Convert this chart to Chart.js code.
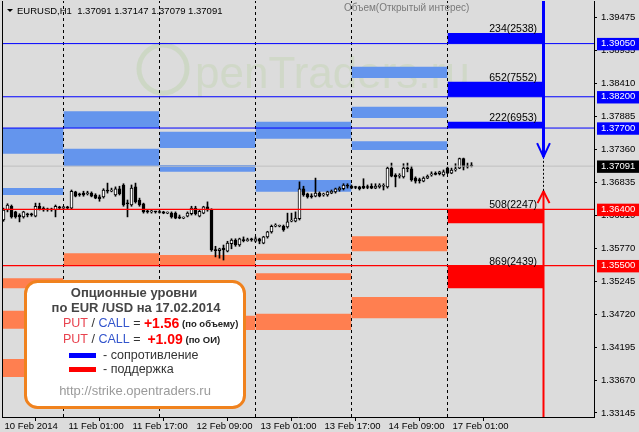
<!DOCTYPE html>
<html>
<head>
<meta charset="utf-8">
<script src="https://cdn.jsdelivr.net/npm/chart.js@4.4.0/dist/chart.umd.min.js"></script>
<style>
  html, body { margin: 0; padding: 0; background: #dcdcdc; overflow: hidden; }
</style>
</head>
<body>
<canvas id="chart" width="639" height="432"></canvas>
<script>
// H1 бары, индекс часа: 0 = 10 Feb 00:00, 24 = 11 Feb, 48 = 12 Feb, 72 = 13 Feb, 96 = 14 Feb, 120 = 17 Feb
const firstBar = 9;
const opens = [
  1.3623,1.3639,1.3645,1.3636,1.3631,1.3628,1.3633,1.3633,1.3629,1.3645,
  1.3642,1.3641,1.3641,1.3639,1.3644,1.3642,1.3644,1.3642,1.3668,1.3665,
  1.3666,1.3665,1.3666,1.3663,1.3660,1.3660,1.3671,1.3669,1.3663,1.3673,
  1.3679,1.3650,1.3647,1.3676,1.3655,1.3649,1.3637,1.3636,1.3636,1.3636,
  1.3636,1.3634,1.3634,1.3634,1.3628,1.3626,1.3629,1.3633,1.3642,1.3629,
  1.3634,1.3644,1.3639,1.3575,1.3574,1.3578,1.3573,1.3585,1.3591,1.3583,
  1.3591,1.3590,1.3593,1.3589,1.3593,1.3586,1.3596,1.3604,1.3613,1.3613,
  1.3613,1.3612,1.3621,1.3621,1.3625,1.3673,1.3665,1.3661,1.3661,1.3666,
  1.3663,1.3663,1.3666,1.3668,1.3671,1.3673,1.3679,1.3677,1.3676,1.3676,
  1.3677,1.3676,1.3677,1.3674,1.3676,1.3677,1.3676,1.3706,1.3695,1.3693,
  1.3692,1.3706,1.3705,1.3690,1.3687,1.3685,1.3690,1.3695,1.3697,1.3697,
  1.3695,1.3706,1.3698,1.3703,1.3706,1.3721,1.3709,1.37091
];
const highs = [
  1.3642,1.3649,1.3647,1.3637,1.3633,1.3637,1.3634,1.3634,1.3650,1.3650,
  1.3644,1.3642,1.3642,1.3647,1.3645,1.3645,1.3645,1.3671,1.3669,1.3666,
  1.3669,1.3669,1.3668,1.3665,1.3663,1.3673,1.3682,1.3674,1.3676,1.3677,
  1.3681,1.3655,1.3679,1.3682,1.3658,1.3650,1.3639,1.3639,1.3637,1.3638,
  1.3637,1.3636,1.3636,1.3636,1.3631,1.3628,1.3636,1.3645,1.3645,1.3639,
  1.3645,1.3652,1.3641,1.3581,1.3578,1.3583,1.3589,1.3593,1.3593,1.3594,
  1.3596,1.3594,1.3594,1.3596,1.3594,1.3597,1.3605,1.3615,1.3617,1.3615,
  1.3615,1.3634,1.3634,1.3636,1.3684,1.3677,1.3666,1.3665,1.3690,1.3668,
  1.3666,1.3669,1.3671,1.3674,1.3676,1.3681,1.3681,1.3679,1.3677,1.3677,
  1.3689,1.3679,1.3681,1.3681,1.3681,1.3681,1.3708,1.3714,1.3697,1.3697,
  1.3713,1.3714,1.3709,1.3692,1.3690,1.3692,1.3695,1.3700,1.3700,1.3701,
  1.3703,1.3708,1.3706,1.3713,1.3722,1.3722,1.3714,1.37147
];
const lows = [
  1.3621,1.3636,1.3626,1.3626,1.3620,1.3626,1.3628,1.3629,1.3628,1.3639,
  1.3637,1.3637,1.3637,1.3628,1.3641,1.3641,1.3641,1.3641,1.3660,1.3661,
  1.3661,1.3663,1.3660,1.3657,1.3653,1.3658,1.3666,1.3668,1.3661,1.3663,
  1.3645,1.3628,1.3645,1.3650,1.3645,1.3634,1.3634,1.3634,1.3634,1.3634,
  1.3633,1.3633,1.3626,1.3625,1.3625,1.3625,1.3628,1.3631,1.3631,1.3628,
  1.3633,1.3637,1.3573,1.3564,1.3562,1.3559,1.3572,1.3577,1.3581,1.3581,
  1.3588,1.3589,1.3589,1.3588,1.3585,1.3585,1.3594,1.3602,1.3612,1.3612,
  1.3605,1.3610,1.3620,1.3620,1.3623,1.3661,1.3658,1.3658,1.3660,1.3660,
  1.3661,1.3661,1.3665,1.3666,1.3669,1.3671,1.3674,1.3673,1.3673,1.3671,
  1.3673,1.3673,1.3673,1.3673,1.3674,1.3671,1.3674,1.3692,1.3676,1.3690,
  1.3690,1.3700,1.3685,1.3682,1.3682,1.3684,1.3689,1.3693,1.3695,1.3695,
  1.3693,1.3697,1.3697,1.3701,1.3705,1.3703,1.3706,1.37079
];
const closes = [
  1.3639,1.3647,1.3628,1.3628,1.3628,1.3636,1.3631,1.3631,1.3645,1.3641,
  1.3639,1.3639,1.3639,1.3645,1.3642,1.3644,1.3642,1.3669,1.3661,1.3663,
  1.3663,1.3666,1.3661,1.3658,1.3657,1.3671,1.3669,1.3671,1.3673,1.3665,
  1.3647,1.3649,1.3674,1.3652,1.3647,1.3636,1.3636,1.3637,1.3636,1.3635,
  1.3634,1.3635,1.3628,1.3626,1.3626,1.3627,1.3634,1.3642,1.3633,1.3637,
  1.3644,1.3639,1.3575,1.3574,1.3577,1.3575,1.3586,1.3591,1.3583,1.3593,
  1.3590,1.3591,1.3591,1.3593,1.3589,1.3596,1.3604,1.3613,1.3615,1.3614,
  1.3607,1.3620,1.3623,1.3626,1.3673,1.3663,1.3660,1.3660,1.3666,1.3661,
  1.3665,1.3668,1.3669,1.3673,1.3674,1.3679,1.3677,1.3674,1.3675,1.3673,
  1.3674,1.3675,1.3674,1.3677,1.3679,1.3678,1.3706,1.3693,1.3692,1.3694,
  1.3706,1.3705,1.3687,1.3685,1.3686,1.3690,1.3693,1.3697,1.3696,1.3700,
  1.3700,1.3698,1.3703,1.3705,1.3721,1.3708,1.3708,1.37091
];

// подписи оси времени и цены
const tickBars = [9, 25, 41, 57, 73, 89, 105, 121];
const tickLabels = ['10 Feb 2014', '11 Feb 01:00', '11 Feb 17:00', '12 Feb 09:00',
  '13 Feb 01:00', '13 Feb 17:00', '14 Feb 09:00', '17 Feb 01:00'];
const priceTicks = [1.39475, 1.38935, 1.38410, 1.37885, 1.37360, 1.36835, 1.36310,
  1.35770, 1.35245, 1.34720, 1.34195, 1.33670, 1.33145];
const dayStarts = [24, 48, 72, 96, 120];

// уровни
const resistLevels = [1.3905, 1.3820, 1.3770];
const supportLevels = [1.3640, 1.3550];
const lastPrice = 1.37091;

// опционные уровни прошлых дней: [начало дня, верх, низ]
const resistHistory = [
  [0, 1.3770, 1.3729], [0, 1.3674, 1.3663],
  [24, 1.3797, 1.3770], [24, 1.3737, 1.3709],
  [48, 1.3764, 1.3738], [48, 1.3711, 1.3700],
  [72, 1.3780, 1.3753], [72, 1.3687, 1.3668],
  [96, 1.3868, 1.3850], [96, 1.3804, 1.3786], [96, 1.3749, 1.3735]
];
const supportHistory = [
  [0, 1.3530, 1.3514], [0, 1.3478, 1.3449], [0, 1.3401, 1.3372],
  [24, 1.3570, 1.3551],
  [48, 1.3567, 1.3551], [48, 1.3470, 1.3447],
  [72, 1.3569, 1.3559], [72, 1.3538, 1.3527], [72, 1.3473, 1.3447],
  [96, 1.3597, 1.3573], [96, 1.3500, 1.3466]
];
// уровни на 17.02: [верх, низ]
const today = 120;
const resistToday = [[1.3922, 1.3905], [1.3844, 1.3820], [1.3780, 1.3770]];
const supportToday = [[1.3640, 1.3618], [1.3550, 1.3514]];
const resistLabels = ['234(2538)', '652(7552)', '222(6953)'];
const supportLabels = ['508(2247)', '869(2439)'];

// стрелки
const arrowBar = 144;
const arrowDownEnd = 1.3724;
const arrowUpEnd = 1.3669;

const xMin = 8.625, xMax = 156.625;
const yMin = 1.33081, yMax = 1.39731;

const LIGHT_BLUE = '#6495ed', CORAL = '#ff7f50';
const FONT = 'Liberation Sans';

const marks = [
  [1.3905, '#0000ff'], [1.3820, '#0000ff'], [1.3770, '#0000ff'],
  [lastPrice, '#000000'], [1.3640, '#ff0000'], [1.3550, '#ff0000']
];
function markColor(v) {
  const m = marks.find(p => Math.abs(p[0] - v) < 1e-7);
  return m ? m[1] : null;
}

const datasets = [];

function rect(x0, x1, top, bottom, color) {
  datasets.push({
    type: 'line', data: [{x: x0, y: top}, {x: x1, y: top}],
    fill: {value: bottom}, backgroundColor: color,
    borderWidth: 0, borderColor: 'transparent', pointRadius: 0, order: 50
  });
}
function seg(points, color, width, dash, order) {
  datasets.push({
    type: 'line', data: points, borderColor: color, borderWidth: width,
    borderDash: dash || [], pointRadius: 0, fill: false, order: order
  });
}

resistHistory.forEach(b => rect(b[0], b[0] + 24, b[1], b[2], LIGHT_BLUE));
supportHistory.forEach(b => rect(b[0], b[0] + 24, b[1], b[2], CORAL));
resistToday.forEach(b => rect(today, today + 24, b[0], b[1], '#0000ff'));
supportToday.forEach(b => rect(today, today + 24, b[0], b[1], '#ff0000'));

// разделители дней
dayStarts.forEach(d => seg([{x: d, y: yMin}, {x: d, y: yMax}], '#000', 1, [3, 3], 40));

// свечи
const bars = opens.map((o, i) => firstBar + i);
datasets.push({
  type: 'bar', data: bars.map((x, i) => ({x: x, y: [lows[i], highs[i]]})),
  backgroundColor: '#000', borderWidth: 0, barThickness: 1, grouped: false, order: 30
});
datasets.push({
  type: 'bar', data: bars.map((x, i) => ({x: x, y: [opens[i], closes[i]]})),
  backgroundColor: bars.map((x, i) => closes[i] > opens[i] ? '#ffffff' : '#000000'),
  borderColor: '#000', borderWidth: 1, borderSkipped: false,
  barThickness: 3, minBarLength: 1, grouped: false, order: 20
});

// горизонтальные уровни
resistLevels.forEach(v => seg([{x: xMin, y: v}, {x: xMax, y: v}], '#0000ff', 1, null, 10));
supportLevels.forEach(v => seg([{x: xMin, y: v}, {x: xMax, y: v}], '#ff0000', 1.2, null, 10));
seg([{x: xMin, y: lastPrice}, {x: xMax, y: lastPrice}], '#c0c0c0', 1, null, 12);

// стрелки
seg([{x: arrowBar, y: yMax}, {x: arrowBar, y: arrowDownEnd}], '#0000ff', 3, null, 5);
seg([{x: arrowBar - 1.6, y: 1.3746}, {x: arrowBar, y: arrowDownEnd}, {x: arrowBar + 1.6, y: 1.3746}], '#0000ff', 2, null, 5);
seg([{x: arrowBar, y: arrowDownEnd}, {x: arrowBar, y: arrowUpEnd}], '#000', 1, [2, 2], 5);
seg([{x: arrowBar, y: arrowUpEnd}, {x: arrowBar, y: yMin}], '#ff0000', 2, null, 5);
seg([{x: arrowBar - 1.5, y: 1.3650}, {x: arrowBar, y: arrowUpEnd}, {x: arrowBar + 1.5, y: 1.3650}], '#ff0000', 2, null, 5);

function textRuns(ctx, x, y, parts) {
  parts.forEach(p => {
    ctx.font = p[1];
    ctx.fillStyle = p[2];
    ctx.fillText(p[0], x, y);
    x += ctx.measureText(p[0]).width;
  });
}

const decor = {
  id: 'decor',
  beforeDraw(chart) {
    const ctx = chart.ctx;
    ctx.save();
    ctx.fillStyle = '#dcdcdc';
    ctx.fillRect(0, 0, chart.width, chart.height);
    ctx.restore();
  },
  beforeDatasetsDraw(chart) {
    // водяной знак
    const ctx = chart.ctx;
    ctx.save();
    ctx.strokeStyle = 'rgba(170,205,140,0.28)';
    ctx.lineWidth = 5;
    ctx.beginPath();
    ctx.arc(163, 69, 24, 0, Math.PI * 2);
    ctx.stroke();
    ctx.fillStyle = 'rgba(170,205,140,0.24)';
    ctx.font = '44px ' + FONT;
    ctx.textBaseline = 'alphabetic';
    ctx.fillText('penTraders.ru', 195, 88);
    ctx.restore();
  },
  afterDatasetsDraw(chart) {
    const {ctx, chartArea, scales} = chart;
    ctx.save();
    ctx.strokeStyle = '#000';
    ctx.lineWidth = 1;
    ctx.beginPath();
    ctx.moveTo(chartArea.left + 0.5, chartArea.top);
    ctx.lineTo(chartArea.left + 0.5, chartArea.bottom);
    ctx.stroke();

    ctx.font = '10.5px ' + FONT;
    ctx.fillStyle = '#000';
    ctx.textAlign = 'right';
    ctx.textBaseline = 'alphabetic';
    const xr = scales.x.getPixelForValue(142.4);
    resistToday.forEach((b, i) => ctx.fillText(resistLabels[i], xr, scales.y.getPixelForValue(b[0]) - 1));
    supportToday.forEach((b, i) => ctx.fillText(supportLabels[i], xr, scales.y.getPixelForValue(b[0]) - 1));
    ctx.restore();
  },
  afterDraw(chart) {
    const ctx = chart.ctx;
    ctx.save();
    // заголовок
    ctx.fillStyle = '#000';
    ctx.beginPath();
    ctx.moveTo(7, 9); ctx.lineTo(13, 9); ctx.lineTo(10, 12); ctx.closePath();
    ctx.fill();
    ctx.font = '9.5px ' + FONT;
    ctx.textBaseline = 'middle';
    ctx.fillText('EURUSD,H1  1.37091 1.37147 1.37079 1.37091', 17, 11);
    ctx.fillStyle = '#7a7a7a';
    ctx.font = '10px ' + FONT;
    ctx.fillText('Объем(Открытый интерес)', 344, 8);

    // информационная панель
    const bx = 25.5, by = 281.5, bw = 219, bh = 126, r = 12;
    ctx.beginPath();
    ctx.moveTo(bx + r, by);
    ctx.arcTo(bx + bw, by, bx + bw, by + bh, r);
    ctx.arcTo(bx + bw, by + bh, bx, by + bh, r);
    ctx.arcTo(bx, by + bh, bx, by, r);
    ctx.arcTo(bx, by, bx + bw, by, r);
    ctx.closePath();
    ctx.fillStyle = '#ffffff';
    ctx.fill();
    ctx.lineWidth = 3;
    ctx.strokeStyle = '#f0821e';
    ctx.stroke();

    ctx.textBaseline = 'middle';
    ctx.textAlign = 'center';
    ctx.fillStyle = '#454545';
    ctx.font = 'bold 13px ' + FONT;
    ctx.fillText('Опционные уровни', 134, 293);
    ctx.fillText('по EUR /USD на 17.02.2014', 136, 308);
    ctx.textAlign = 'left';
    textRuns(ctx, 63, 324, [
      ['PUT', '12.5px ' + FONT, '#e8424e'], [' / ', '12.5px ' + FONT, '#333'],
      ['CALL', '12.5px ' + FONT, '#3355cc'], [' = ', '12.5px ' + FONT, '#333'],
      ['+1.56', 'bold 14px ' + FONT, '#ff0000'], [' (по объему)', 'bold 9.5px ' + FONT, '#222']
    ]);
    textRuns(ctx, 63, 340, [
      ['PUT', '12.5px ' + FONT, '#e8424e'], [' / ', '12.5px ' + FONT, '#333'],
      ['CALL', '12.5px ' + FONT, '#3355cc'], [' =  ', '12.5px ' + FONT, '#333'],
      ['+1.09', 'bold 14px ' + FONT, '#ff0000'], [' (по ОИ)', 'bold 9.5px ' + FONT, '#222']
    ]);
    ctx.fillStyle = '#0000ff';
    ctx.fillRect(69, 353, 27, 5);
    ctx.fillStyle = '#ff0000';
    ctx.fillRect(69, 367, 27, 5);
    ctx.fillStyle = '#333';
    ctx.font = '12.5px ' + FONT;
    ctx.fillText('- сопротивление', 103, 355.5);
    ctx.fillText('- поддержка', 103, 369.5);
    ctx.textAlign = 'center';
    ctx.fillStyle = '#9a9a9a';
    ctx.font = '13px ' + FONT;
    ctx.fillText('http://strike.opentraders.ru', 135, 391);
    ctx.restore();
  }
};

new Chart(document.getElementById('chart').getContext('2d'), {
  type: 'line',
  data: {datasets: datasets},
  plugins: [decor],
  options: {
    responsive: false,
    animation: false,
    events: [],
    layout: {padding: {left: 2, top: 1, right: 0, bottom: 0}},
    plugins: {legend: {display: false}, tooltip: {enabled: false}},
    scales: {
      x: {
        type: 'linear', min: xMin, max: xMax, offset: false,
        afterBuildTicks: s => { s.ticks = tickBars.map(v => ({value: v})); },
        afterFit: s => { s.height = 15; s.paddingLeft = 0; s.paddingRight = 0; },
        ticks: {
          autoSkip: false, maxRotation: 0, align: 'start', labelOffset: 1, padding: 0,
          color: '#000', font: {family: FONT, size: 9.5},
          callback: v => tickLabels[tickBars.indexOf(v)]
        },
        grid: {drawOnChartArea: false, drawTicks: true, tickLength: 4, color: '#000'},
        border: {color: '#000', width: 1}
      },
      y: {
        type: 'linear', position: 'right', min: yMin, max: yMax,
        afterBuildTicks: s => {
          s.ticks = priceTicks.concat(marks.map(m => m[0])).map(v => ({value: v}));
        },
        afterFit: s => { s.width = 45; s.paddingTop = 0; s.paddingBottom = 0; },
        ticks: {
          autoSkip: false, padding: 4,
          font: {family: FONT, size: 9.5},
          color: c => markColor(c.tick.value) ? '#ffffff' : '#000000',
          showLabelBackdrop: true,
          backdropColor: c => markColor(c.tick.value) || 'rgba(0,0,0,0)',
          backdropPadding: {top: 0, bottom: 1, left: 4, right: 4},
          callback: v => v.toFixed(5)
        },
        grid: {
          drawOnChartArea: false, drawTicks: true, tickLength: 3,
          tickColor: c => markColor(c.tick.value) ? 'rgba(0,0,0,0)' : '#000'
        },
        border: {color: '#000', width: 1}
      }
    }
  }
});
</script>
</body>
</html>
